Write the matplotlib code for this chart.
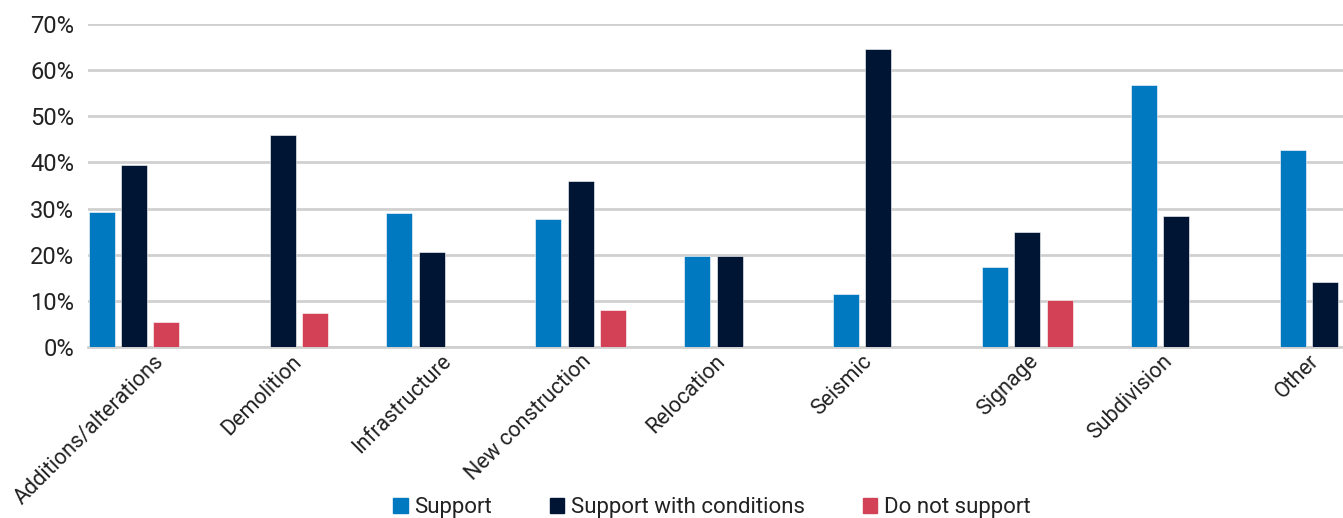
import matplotlib.pyplot as plt
import matplotlib.transforms as mtransforms
import numpy as np
from matplotlib.patches import Patch

categories = ["Additions/alterations", "Demolition", "Infrastructure", "New construction",
              "Relocation", "Seismic", "Signage", "Subdivision", "Other"]
support = [29.3, 0, 29.1, 27.8, 19.7, 11.5, 17.4, 56.8, 42.7]
support_cond = [39.5, 46.0, 20.6, 36.0, 19.7, 64.6, 25.0, 28.4, 14.1]
not_support = [5.4, 7.4, 0, 8.0, 0, 0, 10.2, 0, 0]
series_names = ["Support", "Support with conditions", "Do not support"]
colors = ["#0079C1", "#001433", "#D34157"]

# horizontal nudge (px) of each rotated category label, like the source layout
label_dx = [26, 15, 16, 7, -8, -10, 7, -8, -10]

plt.rcParams['font.family'] = ['Roboto', 'DejaVu Sans']

fig = plt.figure(figsize=(13.43, 5.18), dpi=100)
W, H = 1343, 518
ax = fig.add_axes([88 / W, 1 - 347 / H, (W - 88) / W, (347 - 24) / H])

x = np.arange(len(categories))
bw = 0.175
off = 0.218
for i, vals in enumerate([support, support_cond, not_support]):
    ax.bar(x + (i - 1) * off, vals, width=bw, color=colors[i],
           edgecolor="white", linewidth=0.4, zorder=3)

ax.set_xlim(-0.309, 8.12)
ax.set_ylim(0, 70)
ax.set_yticks(range(0, 71, 10))
ax.set_yticklabels([f"{v}%" for v in range(0, 71, 10)], fontsize=17, color="#222222")
ax.yaxis.grid(True, color="#D0D0D0", linewidth=2, zorder=0)
ax.set_axisbelow(True)
for s in ["top", "right", "left"]:
    ax.spines[s].set_visible(False)
ax.spines["bottom"].set_color("#D0D0D0")
ax.spines["bottom"].set_linewidth(2)
ax.tick_params(axis="y", length=0, pad=10)
ax.tick_params(axis="x", length=0, pad=3)

ax.set_xticks(x)
ax.set_xticklabels(categories, rotation=45, ha="right", va="top",
                   rotation_mode="anchor", fontsize=15.5, color="#222222")
for lab, dx in zip(ax.get_xticklabels(), label_dx):
    shift = mtransforms.ScaledTranslation((dx - 7) / 100, 0, fig.dpi_scale_trans)
    lab.set_transform(lab.get_transform() + shift)

handles = [Patch(color=c, label=n) for c, n in zip(colors, series_names)]
fig.legend(handles=handles, loc="center", bbox_to_anchor=(712 / W, 1 - 508 / H),
           ncol=3, frameon=False, fontsize=16, handlelength=0.65, handleheight=0.65,
           handletextpad=0.3, columnspacing=2.6, labelcolor="#222222")

fig.savefig("out.png", dpi=100)
